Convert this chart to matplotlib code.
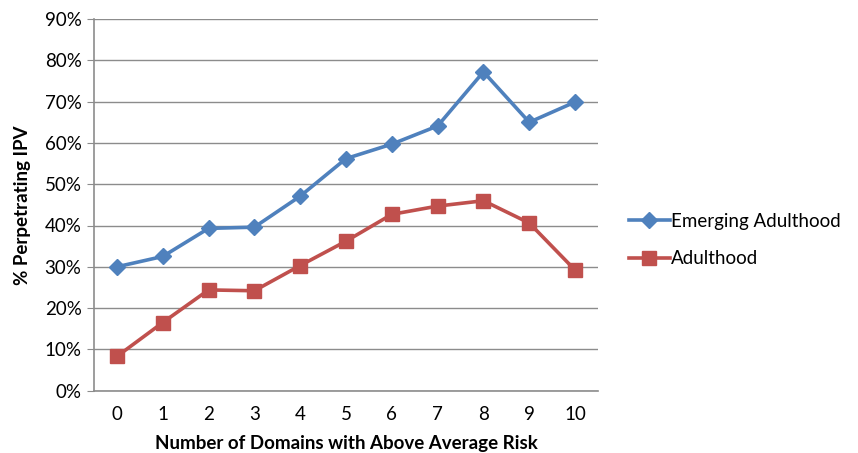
import matplotlib
matplotlib.use("Agg")
import matplotlib.pyplot as plt
from matplotlib.ticker import FuncFormatter

categories = [0, 1, 2, 3, 4, 5, 6, 7, 8, 9, 10]
emerging = [30.0, 32.5, 39.3, 39.6, 47.1, 56.2, 59.7, 64.1, 77.2, 65.0, 69.9]
adulthood = [8.3, 16.5, 24.4, 24.2, 30.3, 36.2, 42.7, 44.7, 46.0, 40.6, 29.2]
yticks = [0, 10, 20, 30, 40, 50, 60, 70, 80, 90]

plt.rcParams['font.family'] = ['Lato', 'DejaVu Sans']

fig = plt.figure(figsize=(8.58, 4.53), dpi=100)
ax = fig.add_axes([94/858, 1-390.7/453, (598-94)/858, (390.7-19)/453])

grid_c = '#8c8c8c'
ax.plot(categories, emerging, color='#4F81BD', lw=2.6, marker='D', ms=8,
        label='Emerging Adulthood', zorder=3)
ax.plot(categories, adulthood, color='#C0504D', lw=2.6, marker='s', ms=9.5,
        label='Adulthood', zorder=3)

ax.set_xlim(-0.5, 10.5)
ax.set_ylim(0, 90)
ax.set_yticks(yticks)
ax.yaxis.set_major_formatter(FuncFormatter(lambda v, p: f"{int(v)}%"))
ax.set_xticks(categories)
ax.grid(axis='y', color=grid_c, lw=1)
ax.set_axisbelow(True)
for s in ['top', 'right']:
    ax.spines[s].set_visible(False)
for s in ['left', 'bottom']:
    ax.spines[s].set_color(grid_c)
    ax.spines[s].set_linewidth(1.2)
ax.tick_params(axis='y', length=5, color=grid_c, labelsize=13.5, pad=4)
ax.tick_params(axis='x', length=0, labelsize=13.5, pad=11)

ax.set_xlabel('Number of Domains with Above Average Risk', fontsize=13.5,
              fontweight='bold', labelpad=9)
ax.set_ylabel('% Perpetrating IPV', fontsize=13.5, fontweight='bold', labelpad=10)

fig.legend(loc='center left', bbox_to_anchor=(621/858, 1-240/453), frameon=False,
           fontsize=13.5, handlelength=2.2, handletextpad=0.05, labelspacing=1.1,
           borderaxespad=0)

fig.savefig('out.png', dpi=100)
